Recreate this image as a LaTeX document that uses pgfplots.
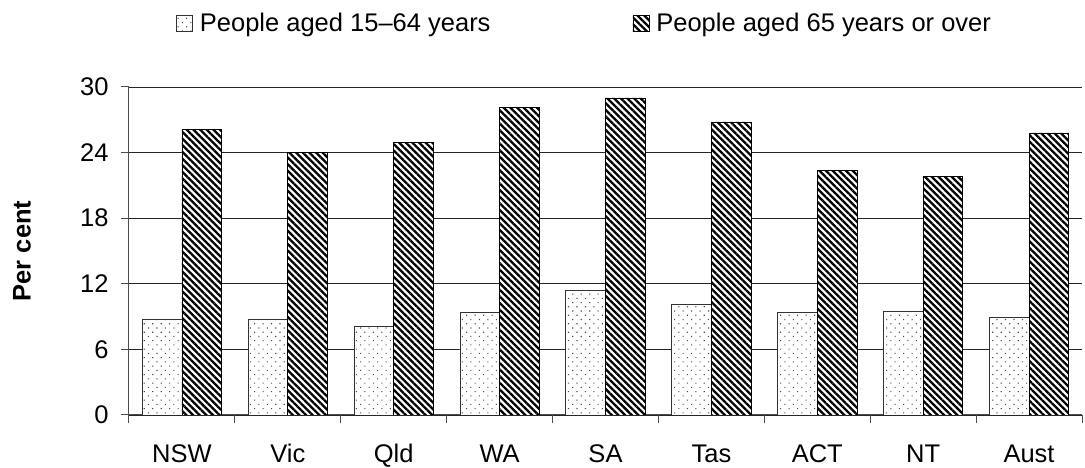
\documentclass[border=0pt]{standalone}
\usepackage{pgfplots}
\pgfplotsset{compat=1.18}
\usepackage{fontspec}
\setmainfont{Liberation Sans}
\usetikzlibrary{patterns.meta}
\newcommand{\chartfont}{\fontsize{25.5}{30}\selectfont}
\begin{document}
\begin{tikzpicture}[font=\chartfont]
\path[use as bounding box] (-129pt,-53pt) rectangle (956pt,415pt);
\begin{axis}[
  at={(0,0)}, anchor=south west,
  scale only axis, width=953pt, height=328pt,
  xmin=-0.5, xmax=8.5, ymin=0, ymax=30,
  ybar, bar width=0.375,
  ytick={0,6,...,30},
  ymajorgrids, major grid style={black!85, line width=0.9pt},
  axis x line*=bottom, axis y line*=left,
  axis line style={black!70, line width=1pt, -},
  tick align=outside, major tick length=8pt, minor tick length=8pt,
  tick style={black!70, line width=1pt},
  xtick={0,...,8},
  xticklabels={NSW,Vic,Qld,WA,SA,Tas,ACT,NT,Aust},
  minor xtick={-0.5,0.5,...,8.5},
  major x tick style={draw=none},
  /pgf/number format/assume math mode=true,
  ticklabel style={font=\chartfont},
  yticklabel style={xshift=-9pt},
  xticklabel style={text height=18.5pt, text depth=0pt, anchor=north, yshift=-17pt},
  ylabel={\textbf{Per cent}},
  ylabel style={at={(axis description cs:-0.1123,0.5)}, anchor=center, font=\chartfont},
  legend columns=2,
  legend cell align=left,
  legend style={draw=none, fill=none, font=\chartfont,
    at={(rel axis cs:0.478,1.195)}, anchor=center,
    /tikz/every even column/.append style={column sep=140pt}},
  legend image code/.code={\draw[#1] (0pt,-8pt) rectangle (16pt,8pt);},
]
\addplot[bar shift=-0.1875, draw=black!80, line width=0.8pt, fill=white,
  postaction={pattern={Dots[distance=6pt, radius=0.75pt, angle=45]}, pattern color=black!70}]
  coordinates {(0,8.7) (1,8.7) (2,8.1) (3,9.4) (4,11.4) (5,10.1) (6,9.4) (7,9.5) (8,8.9)};
\addlegendentry{\hspace{5pt}People aged 15–64 years}
\addplot[bar shift=0.1875, draw=black, line width=0.8pt, fill=white,
  postaction={pattern={Lines[angle=-45, distance=4.7pt, line width=2.3pt]}, pattern color=black}]
  coordinates {(0,26.1) (1,24.0) (2,24.9) (3,28.1) (4,29.0) (5,26.8) (6,22.4) (7,21.8) (8,25.8)};
\addlegendentry{\hspace{5pt}People aged 65 years or over}
\end{axis}
\end{tikzpicture}
\end{document}
